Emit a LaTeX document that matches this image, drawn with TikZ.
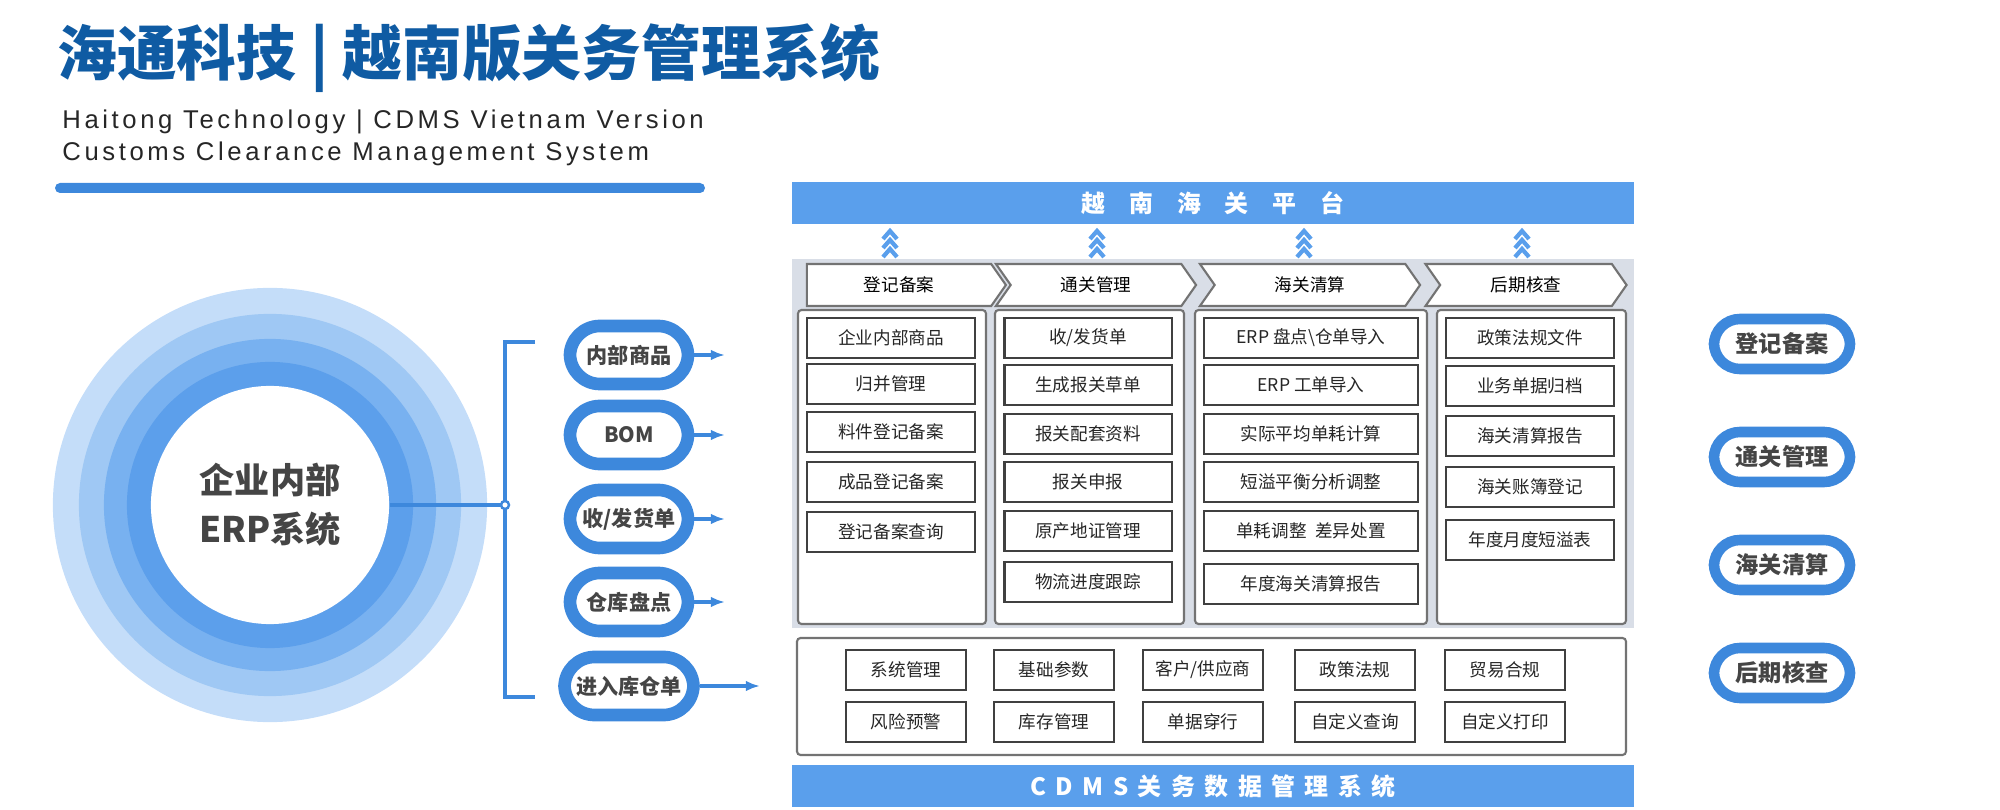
\documentclass[tikz,border=0pt]{standalone}
\usepackage{fontspec}
\setmainfont{Noto Sans CJK SC}
\newfontfamily\latinfont[LetterSpace=14]{Liberation Sans}
\usetikzlibrary{arrows.meta, shapes.symbols}
\definecolor{darkblue}{HTML}{0F5BA3}
\definecolor{midblue}{HTML}{3D88DC}
\definecolor{barblue}{HTML}{5A9FEC}
\definecolor{ringA}{HTML}{C4DDF9}
\definecolor{ringB}{HTML}{9FC8F4}
\definecolor{ringC}{HTML}{78B1F0}
\definecolor{ringD}{HTML}{5C9FEB}
\definecolor{panelgray}{HTML}{D9DEE7}
\definecolor{textgray}{HTML}{454545}
\tikzset{
	pill/.style={draw=midblue, line width=3.6pt, rounded corners=0.3cm, fill=white,
		minimum height=0.58cm, text=textgray, font=\fontsize{6}{7}\selectfont\bfseries},
	sidepill/.style={draw=midblue, line width=3pt, rounded corners=0.26cm, fill=white,
		minimum width=1.36cm, minimum height=0.5cm, text=textgray,
		font=\fontsize{6.6}{8}\selectfont\bfseries},
	item/.style={draw=black!75, line width=0.6pt, fill=white, minimum height=0.4cm,
		inner sep=0pt, font=\fontsize{5}{6}\selectfont, text=black!85},
	column/.style={draw=black!55, line width=0.6pt, fill=white, rounded corners=1pt},
	stage/.style={signal, signal to=east, draw=black!55, fill=white, line width=0.6pt,
		minimum height=0.42cm, inner ysep=0pt, signal pointer angle=110,
		font=\fontsize{5}{6}\selectfont, inner xsep=0pt},
	bar/.style={fill=barblue, text=white, minimum height=0.42cm, inner ysep=0pt,
		font=\fontsize{6.8}{8}\selectfont\bfseries},
	flow/.style={-{Latex[length=4pt,width=3pt]}, midblue, line width=0.9pt},
}
\begin{document}
\begin{tikzpicture}[x=0.01cm, y=-0.01cm]
	\useasboundingbox (0,0) rectangle (2000,810);
	% heading
	\node[anchor=west, text=darkblue, font=\fontsize{17}{20}\selectfont\bfseries] (title)
		at (45,58) {海通科技 | 越南版关务管理系统};
	\node[anchor=west, text=black!85, font=\fontsize{7.3}{9}\latinfont] (sub1)
		at (50,122) {Haitong Technology | CDMS Vietnam Version};
	\node[anchor=west, text=black!85, font=\fontsize{7.3}{9}\latinfont] (sub2)
		at (50,154) {Customs Clearance Management System};
	\fill[midblue, rounded corners=0.05cm] (55,183) rectangle (705,193);

	% ERP rings
	\fill[ringA] (270,505) circle (2.17cm);
	\fill[ringB] (270,505) circle (1.91cm);
	\fill[ringC] (270,505) circle (1.66cm);
	\fill[ringD] (270,505) circle (1.43cm);
	\node[circle, fill=white, minimum size=2.38cm, align=center, text=textgray,
		font=\fontsize{10}{14}\selectfont\bfseries] (erp) at (270,505) {企业内部\\ERP系统};

	% bracket
	\coordinate (hub) at (505,505);
	\draw[midblue, line width=0.9pt] (535,342) -- (505,342) -- (505,697) -- (535,697);
	\draw[midblue, line width=0.9pt] (erp.east) -- (hub);
	\draw[midblue, line width=0.7pt, fill=white] (hub) circle (0.04cm);

	% input pills
	\foreach \name/\y/\w/\len [count=\i] in {内部商品/355/1.18cm/725, BOM/435/1.18cm/725,
		{收/发货单}/519/1.18cm/725, 仓库盘点/602/1.18cm/725, 进入库仓单/686/1.21cm/760}{
		\node[pill, minimum width=\w] (in\i) at (629,\y) {\name};
		\coordinate (inEnd\i) at (\len,\y);
		\draw[flow] (in\i.east) -- (inEnd\i);
	}

	% platform
	\node[bar, minimum width=8.42cm] (platform) at (1213,203)
		{越\quad 南\quad 海\quad 关\quad 平\quad 台};
	\fill[panelgray] (792,259) rectangle (1634,628);
	\foreach \x in {890,1097,1304,1522}{
		\foreach \dy in {0,9,18}{
			\draw[barblue, line width=1.2pt] (\x-7,239+\dy) -- (\x,231+\dy) -- (\x+7,239+\dy);
		}
	}

	% stages
	\node[stage, minimum width=1.99cm] (st1) at (899,285) {登记备案};
	\node[stage, signal from=west, minimum width=2.0cm] (st2) at (1096,285) {通关管理};
	\node[stage, signal from=west, minimum width=2.2cm] (st3) at (1310,285) {海关清算};
	\node[stage, signal from=west, minimum width=2.01cm] (st4) at (1526,285) {后期核查};

	% columns
	\draw[column] (798,310) rectangle (986,624);
	\draw[column] (995,310) rectangle (1184,624);
	\draw[column] (1195,310) rectangle (1427,624);
	\draw[column] (1437,310) rectangle (1626,624);

	\foreach \txt/\y [count=\i] in {企业内部商品/338, 归并管理/384, 料件登记备案/432,
		成品登记备案/482, 登记备案查询/532}{
		\node[item, minimum width=1.68cm] (a\i) at (891,\y) {\txt};
	}
	\foreach \txt/\y [count=\i] in {{收/发货单}/338, 生成报关草单/385, 报关配套资料/434,
		报关申报/482, 原产地证管理/531, 物流进度跟踪/582}{
		\node[item, minimum width=1.67cm] (b\i) at (1088,\y) {\txt};
	}
	\foreach \txt/\y [count=\i] in {ERP 盘点\textbackslash 仓单导入/338, ERP 工单导入/385,
		实际平均单耗计算/434, 短溢平衡分析调整/482, 单耗调整\enspace 差异处置/531,
		年度海关清算报告/584}{
		\node[item, minimum width=2.14cm] (c\i) at (1311,\y) {\txt};
	}
	\foreach \txt/\y [count=\i] in {政策法规文件/338, 业务单据归档/386, 海关清算报告/436,
		海关账簿登记/487, 年度月度短溢表/540}{
		\node[item, minimum width=1.68cm] (d\i) at (1530,\y) {\txt};
	}

	% common functions
	\draw[column] (797,638) rectangle (1626,755);
	\foreach \txt/\x [count=\i] in {系统管理/906, 基础参数/1054, {客户/供应商}/1203,
		政策法规/1355, 贸易合规/1505}{
		\node[item, minimum width=1.2cm] (e\i) at (\x,670) {\txt};
	}
	\foreach \txt/\x [count=\i] in {风险预警/906, 库存管理/1054, 单据穿行/1203,
		自定义查询/1355, 自定义打印/1505}{
		\node[item, minimum width=1.2cm] (f\i) at (\x,722) {\txt};
	}
	\node[bar, minimum width=8.42cm] (cdms) at (1213,786)
		{C\, D\, M\, S\, 关\, 务\, 数\, 据\, 管\, 理\, 系\, 统};

	% side pills
	\foreach \txt/\y [count=\i] in {登记备案/344, 通关管理/457, 海关清算/565, 后期核查/673}{
		\node[sidepill] (side\i) at (1782,\y) {\txt};
	}
\end{tikzpicture}
\end{document}
